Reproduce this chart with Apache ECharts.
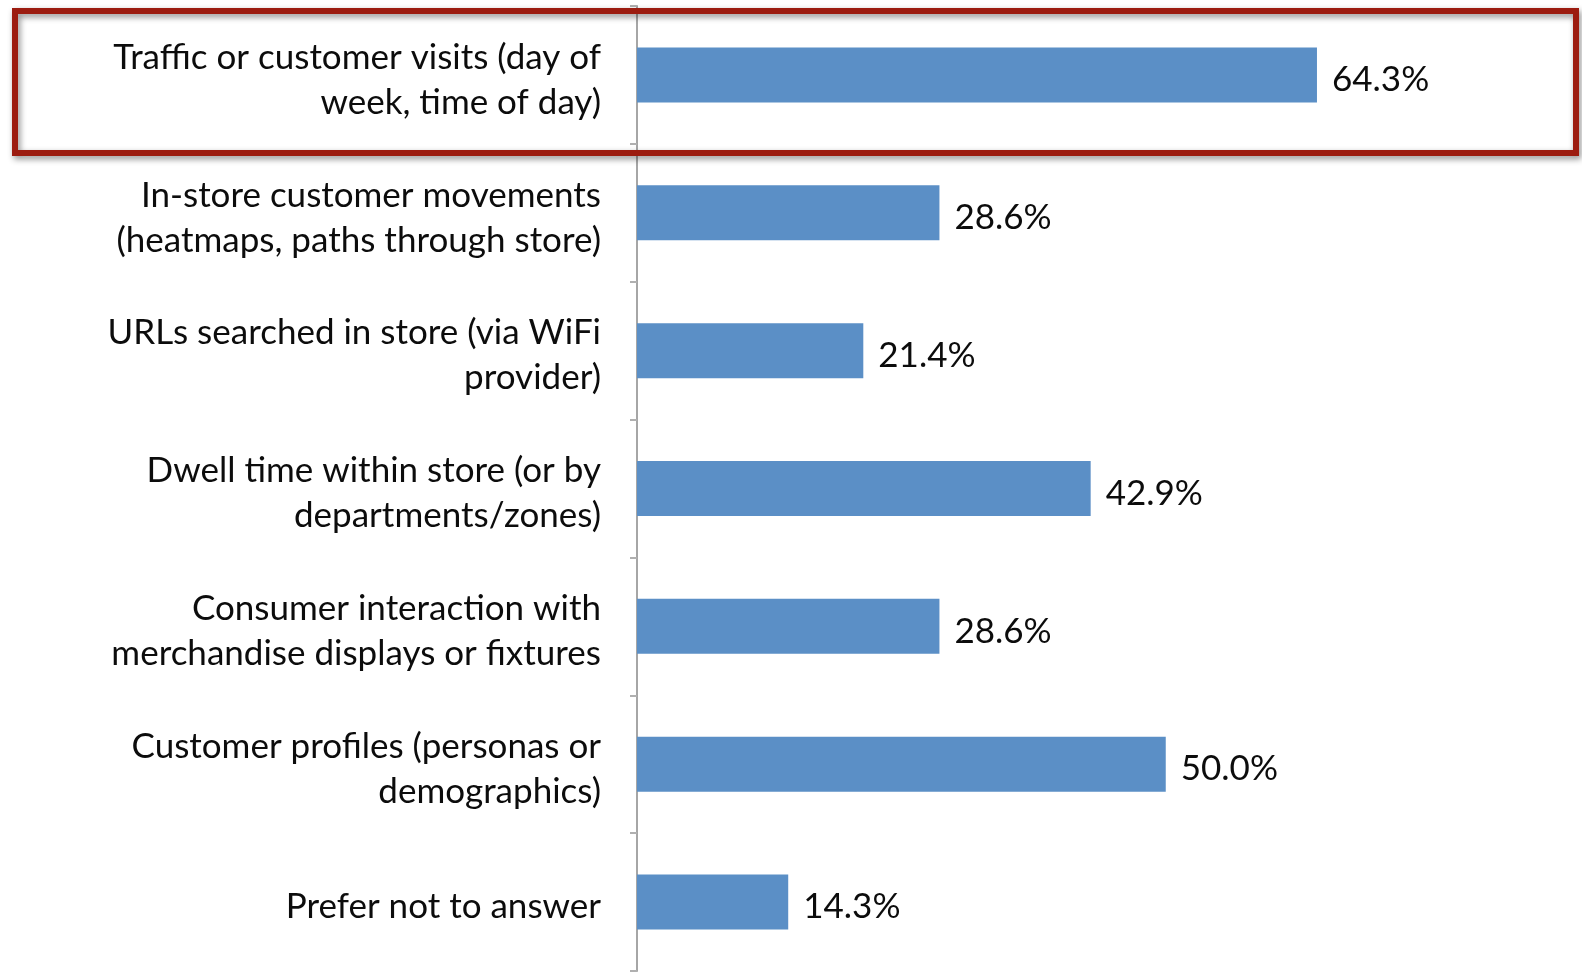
<!DOCTYPE html>
<html>
<head>
<meta charset="utf-8">
<script src="https://cdn.jsdelivr.net/npm/echarts@6/dist/echarts.min.js"></script>
<style>
  html, body { margin: 0; padding: 0; background: #ffffff; }
  #chart { width: 1582px; height: 972px; }
</style>
</head>
<body>
<div id="chart"></div>
<script>
// Survey answers: what in-store data is collected
const categories = [
  'Traffic or customer visits (day of\nweek, time of day)',
  'In-store customer movements\n(heatmaps, paths through store)',
  'URLs searched in store (via WiFi\nprovider)',
  'Dwell time within store (or by\ndepartments/zones)',
  'Consumer interaction with\nmerchandise displays or fixtures',
  'Customer profiles (personas or\ndemographics)',
  'Prefer not to answer'
];
const shares = [64.3, 28.6, 21.4, 42.9, 28.6, 50.0, 14.3];

const chart = echarts.init(document.getElementById('chart'), null, { renderer: 'canvas' });

const FONT = 'Lato, "Open Sans", sans-serif';
const xMax = 80;
const pxPerUnit = 680 / 64.3;

chart.setOption({
  animation: false,
  backgroundColor: '#ffffff',
  grid: {
    left: 637,
    top: 6,
    height: 965,
    width: Math.round(xMax * pxPerUnit)
  },
  xAxis: {
    type: 'value',
    min: 0,
    max: xMax,
    show: false
  },
  yAxis: {
    type: 'category',
    data: categories,
    inverse: true,
    axisLine: { show: true, lineStyle: { color: '#a6a6a6', width: 2 } },
    axisTick: { show: true, length: 7, lineStyle: { color: '#b0b0b0', width: 2 } },
    axisLabel: {
      margin: 36,
      align: 'right',
      // each line sits low in its 45px line box
      formatter: v => v.split('\n').map(line => '{t|' + line + '}').join('\n'),
      rich: {
        t: {
          fontFamily: FONT,
          fontSize: 35,
          lineHeight: 45,
          color: '#0c0c0c',
          verticalAlign: 'bottom'
        }
      }
    },
    splitLine: { show: false }
  },
  series: [{
    type: 'bar',
    data: shares,
    barWidth: 55,
    itemStyle: { color: '#5b8fc6' },
    label: {
      show: true,
      position: 'right',
      distance: 15,
      offset: [0, 5],
      fontFamily: FONT,
      fontSize: 35,
      color: '#0c0c0c',
      formatter: p => p.value.toFixed(1) + '%'
    }
  }],
  graphic: [{
    type: 'rect',
    z: 100,
    shape: { x: 15, y: 11, width: 1561, height: 142 },
    style: {
      fill: null,
      stroke: '#9c1c10',
      lineWidth: 6,
      shadowBlur: 6,
      shadowColor: 'rgba(0,0,0,0.45)',
      shadowOffsetX: 2,
      shadowOffsetY: 3
    }
  }]
});
</script>
</body>
</html>
